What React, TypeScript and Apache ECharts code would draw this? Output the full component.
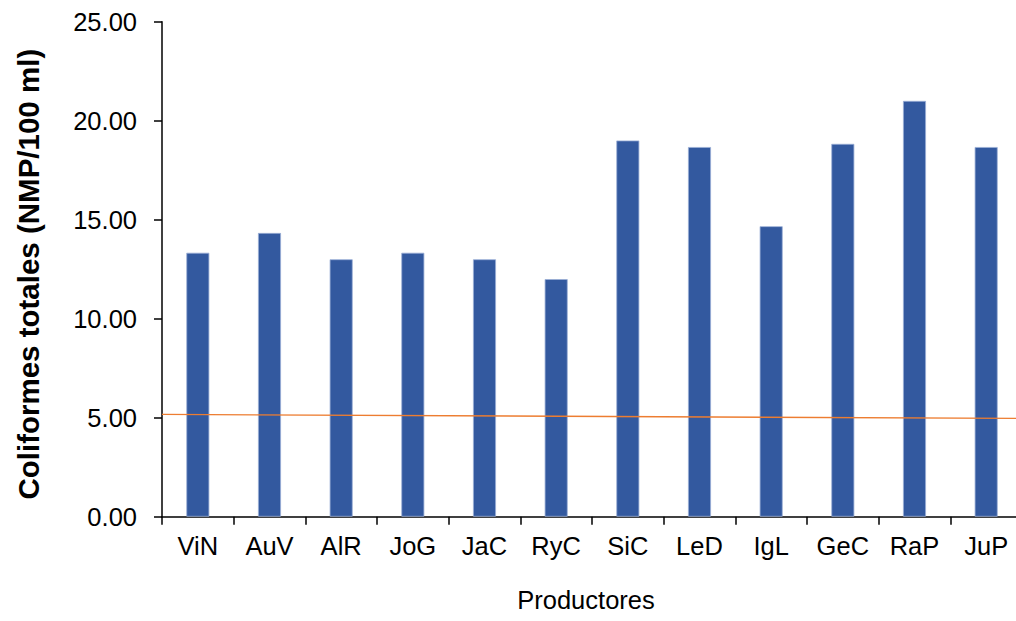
import React, { useEffect, useRef } from "react";
import * as echarts from "echarts";

const categories = ["ViN", "AuV", "AlR", "JoG", "JaC", "RyC", "SiC", "LeD", "IgL", "GeC", "RaP", "JuP"];
const values = [13.33, 14.33, 13.0, 13.33, 13.0, 12.0, 19.0, 18.67, 14.67, 18.83, 21.0, 18.67];
const trendX = [0, 12];
const trendY = [5.17, 4.96];
const yTicks = { min: 0, max: 25, interval: 5 };

export default function App() {
  const ref = useRef<HTMLDivElement>(null);
  useEffect(() => {
    document.body.style.margin = "0";
    const chart = echarts.init(ref.current!, null, { renderer: "svg" });
    const font = "'Liberation Sans', Arial, sans-serif";
    chart.setOption({
      animation: false,
      grid: {
        left: 162,
        top: 21.7,
        width: 860,
        height: 495,
        containLabel: false,
        outerBoundsMode: "none",
      },
      xAxis: [
        {
          type: "category",
          data: categories,
          boundaryGap: true,
          axisLine: { lineStyle: { color: "#000", width: 1.5 } },
          axisTick: { show: true, length: 8, lineStyle: { color: "#000", width: 1.5 } },
          axisLabel: { color: "#000", fontSize: 25.5, fontFamily: font, margin: 16 },
          name: "Productores",
          nameLocation: "middle",
          nameGap: 70,
          nameTextStyle: {
            color: "#000",
            fontSize: 25.5,
            fontFamily: font,
            verticalAlign: "top",
            padding: [0, 12, 0, 0],
          },
        },
        {
          type: "value",
          min: 0,
          max: 12,
          show: false,
        },
      ],
      yAxis: {
        type: "value",
        min: yTicks.min,
        max: yTicks.max,
        interval: yTicks.interval,
        axisLine: { show: true, lineStyle: { color: "#000", width: 1.5 } },
        axisTick: { show: true, length: 8, lineStyle: { color: "#000", width: 1.5 } },
        splitLine: { show: false },
        axisLabel: {
          color: "#000",
          fontSize: 25.5,
          fontFamily: font,
          margin: 25,
          formatter: (v: number) => v.toFixed(2),
        },
        name: "Coliformes totales (NMP/100 ml)",
        nameLocation: "middle",
        nameGap: 119,
        nameTextStyle: {
          color: "#000",
          fontSize: 29.5,
          fontWeight: "bold",
          fontFamily: font,
          padding: [0, 10, 0, 0],
        },
      },
      series: [
        {
          type: "bar",
          data: values,
          barWidth: 23,
          itemStyle: { color: "#33599F", borderColor: "#9AAFD6", borderWidth: 0.8 },
        },
        {
          type: "line",
          xAxisIndex: 1,
          data: trendX.map((x, i) => [x, trendY[i]]),
          symbol: "none",
          lineStyle: { color: "#ED7D31", width: 1.3 },
          z: 5,
        },
      ],
    });
    return () => chart.dispose();
  }, []);
  return (
    <div style={{ width: 1016, height: 621, overflow: "hidden" }}>
      <div ref={ref} style={{ width: 1016, height: 621 }} />
    </div>
  );
}
